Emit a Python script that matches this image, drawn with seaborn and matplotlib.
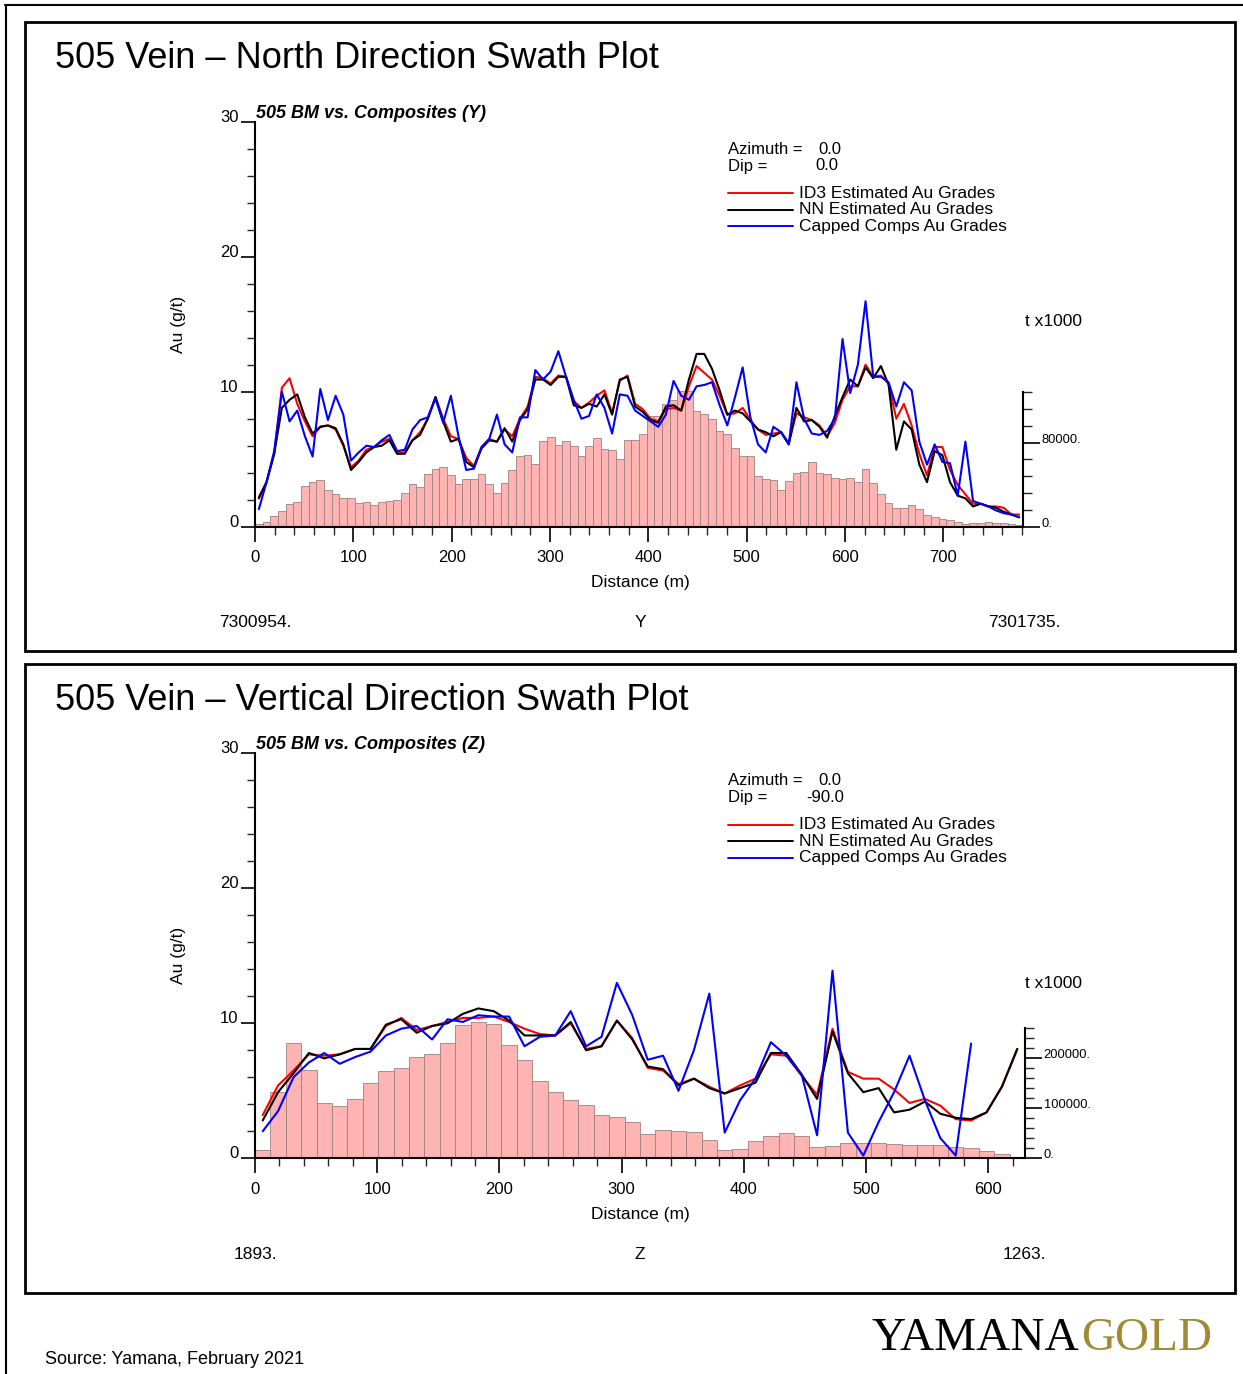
import numpy as np
import pandas as pd
import matplotlib
matplotlib.use("Agg")
import matplotlib.pyplot as plt
import seaborn as sns
from matplotlib.lines import Line2D
from matplotlib.patches import Rectangle
from matplotlib.ticker import FixedLocator, FixedFormatter, MultipleLocator

# ---------------- data ----------------
# North (Y) swath: 100 slices over 781 m
north_length_m = 781.0
north_tonnes_k = [2200, 4800, 10200, 14900, 21600, 23500, 38700, 42200, 44100, 34900,
                  30800, 27600, 27600, 22200, 23200, 20600, 23200, 24800, 25400, 32400,
                  40300, 38100, 50200, 54900, 56500, 48900, 40300, 45700, 45100, 50200,
                  40300, 32400, 41300, 53700, 67600, 68300, 59400, 81600, 85400, 77800,
                  81300, 76500, 67300, 77200, 84100, 73700, 72700, 64100, 82900, 82200,
                  88300, 105400, 105400, 116500, 120700, 129000, 129000, 110200, 107300, 102200,
                  91100, 88600, 74900, 67600, 67000, 48300, 45400, 44100, 35200, 43200,
                  51100, 52400, 61300, 51100, 49800, 46000, 45400, 46700, 42900, 54600,
                  41600, 30800, 22500, 17800, 17800, 20300, 17100, 11100, 9200, 7000,
                  6400, 4400, 2900, 3800, 3800, 4100, 3800, 3200, 2500, 1600]
north_id3 = [2.2, 3.3, 5.4, 10.3, 11.0, 9.1, 7.8, 6.7, 7.4, 7.5, 7.2, 6.0, 4.4, 4.9, 5.7, 5.9, 6.3,
             6.5, 5.5, 5.5, 6.4, 7.0, 8.0, 9.6, 8.0, 6.7,
             6.5, 5.1, 4.5, 5.9, 6.5, 6.3, 7.2, 6.7, 8.0, 8.9, 11.1, 11.0, 10.6, 11.2, 11.1, 9.3,
             8.8, 9.2, 9.7, 10.1, 8.4, 10.8, 11.2, 9.1, 8.7,
             8.0, 7.8, 8.7, 8.8, 8.6, 10.4, 11.9, 11.4, 10.9, 9.7, 8.3, 8.4, 8.8, 7.9, 7.2, 6.8,
             6.9, 7.0, 6.2, 8.4, 8.1, 7.9, 7.5, 6.7, 7.7,
             9.4, 10.4, 10.4, 12.0, 11.1, 11.2, 10.6, 8.0, 9.1, 7.5, 5.4, 3.8, 5.9, 5.9, 4.2, 3.1,
             2.4, 1.7, 1.7, 1.5, 1.5, 1.4, 0.9, 0.9]
north_nn = [2.1, 3.3, 5.4, 8.8, 9.4, 9.8, 8.1, 6.9, 7.4, 7.5, 7.3, 6.1, 4.2, 4.8, 5.5, 5.9, 6.0,
            6.4, 5.4, 5.4, 6.4, 6.8, 8.0, 9.6, 7.8, 6.3,
            6.5, 4.8, 4.4, 5.8, 6.4, 6.3, 7.3, 6.3, 7.9, 8.7, 10.9, 10.9, 10.5, 11.1, 11.1, 9.0,
            8.8, 9.1, 8.9, 9.8, 8.3, 10.9, 11.1, 8.9, 8.5,
            7.9, 7.7, 8.9, 9.0, 8.6, 10.9, 12.8, 12.8, 11.7, 10.1, 8.3, 8.6, 8.4, 7.8, 7.2, 7.0,
            6.7, 7.0, 6.1, 8.8, 7.8, 7.9, 7.4, 6.6, 8.2,
            9.6, 10.9, 10.4, 11.8, 11.0, 11.9, 10.5, 5.7, 7.8, 7.2, 4.6, 3.3, 5.6, 5.3, 3.3, 2.3,
            2.1, 1.5, 1.7, 1.5, 1.4, 1.1, 0.9, 0.7]
north_comps = [1.3, 3.3, 5.6, 10.0, 7.8, 8.6, 6.7, 5.2, 10.2, 7.9, 9.7, 8.3, 4.9, 5.5, 6.0, 5.9, 6.4,
               6.8, 5.6, 5.7, 7.2, 7.9, 8.1, 9.5, 7.7, 9.7,
               6.7, 4.2, 4.3, 5.9, 6.5, 8.3, 6.1, 5.5, 8.1, 8.1, 11.6, 10.9, 11.5, 13.0, 11.1, 9.4,
               8.0, 8.2, 9.8, 8.8, 6.9, 9.8, 9.7, 8.6, 8.2,
               7.8, 7.4, 8.3, 10.8, 9.7, 9.4, 10.4, 10.5, 10.7, 9.0, 7.5, 9.6, 11.8, 8.1, 6.1, 5.5,
               7.4, 7.0, 6.1, 10.7, 8.0, 6.9, 6.8, 7.1, 8.0,
               13.9, 9.9, 12.0, 16.7, 11.1, 11.1, 10.7, 8.9, 10.7, 10.1, 6.3, 4.6, 6.1, 4.8, 4.7, 2.3,
               6.3, 1.9, 1.7, 1.5, 1.2, 1.0, 0.9, 0.7]

# Vertical (Z) swath: 50 slices over 630 m
vert_length_m = 630.0
vert_tonnes_k = [16700, 132000, 230000, 176700, 111300, 104700, 118000, 150000, 174700, 181300,
                 202000, 208700, 230000, 266700, 272700, 268000, 226700, 196700, 155300, 133300,
                 116700, 106700, 86700, 83300, 72000,
                 48700, 56700, 54700, 53300, 36700, 16700, 18700, 34700, 44700, 50000,
                 44700, 23300, 24700, 31300, 31300, 30700, 28700, 26700, 26700, 26000,
                 23300, 20000, 15300, 8700, 2000]
vert_id3 = [3.2, 5.4, 6.5, 7.7, 7.6, 7.7, 8.1, 8.1, 9.8, 10.4, 9.5, 9.8, 10.1, 10.4, 10.4, 10.5,
            10.1, 9.6, 9.2, 9.1, 10.0, 8.1, 8.3, 10.2, 8.9,
            6.7, 6.5, 5.5, 5.9, 5.3, 4.8, 5.4, 5.9, 7.7, 7.6, 6.1, 4.7, 9.6, 6.4, 5.9, 5.9, 5.1,
            4.1, 4.4, 3.9, 2.9, 2.8, 3.4, 5.3, 8.1]
vert_nn = [2.8, 4.9, 6.3, 7.8, 7.4, 7.7, 8.1, 8.1, 9.9, 10.3, 9.3, 9.8, 10.0, 10.7, 11.1, 10.9,
           10.2, 9.1, 9.1, 9.1, 10.1, 8.0, 8.3, 10.2, 8.8,
           6.8, 6.6, 5.4, 5.9, 5.2, 4.8, 5.2, 5.6, 7.8, 7.8, 6.2, 4.4, 9.4, 6.3, 4.9, 5.2, 3.4,
           3.6, 4.2, 3.3, 3.0, 2.9, 3.4, 5.3, 8.1]
vert_comps = [2.0, 3.5, 6.0, 7.1, 7.8, 7.0, 7.5, 7.9, 9.1, 9.6, 9.8, 8.8, 10.3, 10.1, 10.6, 10.5,
              10.5, 8.3, 9.0, 9.1, 10.9, 8.3, 9.0, 13.0, 10.6,
              7.3, 7.6, 5.0, 8.0, 12.2, 1.9, 4.3, 5.9, 8.6, 7.6, 6.2, 1.7, 13.9, 1.9, 0.2, 2.7,
              4.9, 7.6, 4.3, 1.5, 0.2, 8.5, np.nan, np.nan, np.nan]

series_labels = ["ID3 Estimated Au Grades", "NN Estimated Au Grades", "Capped Comps Au Grades"]

# ---------------- styling ----------------
W, H = 1243, 1374
RED, BLACK, BLUE = "#ff0000", "#000000", "#0000ff"
BAR_FILL, BAR_EDGE = "#ffb4b4", "#a08080"
GOLD = "#a08a34"

sns.set_theme(style="white")
plt.rcParams["font.family"] = ["Liberation Sans", "DejaVu Sans"]
plt.rcParams["axes.edgecolor"] = "black"

fig = plt.figure(figsize=(W / 100, H / 100), dpi=100)
fig.patch.set_facecolor("white")


def fx(x):
    return x / W


def fy(y):
    return 1 - y / H


def ftext(x, y, s, **kw):
    kw.setdefault("ha", "left")
    kw.setdefault("va", "center")
    kw.setdefault("fontsize", 12.5)
    kw.setdefault("color", "black")
    return fig.text(fx(x), fy(y + 2), s, **kw)


def panel(top_px, bottom_px, right_px, length, tonnes, id3, nn, comps,
          xmajor, r_major, r_minor, r_top, r_ylim, tag, endpoints, title,
          az, dip, box_top, unit_y):
    ax = fig.add_axes([fx(255), fy(bottom_px), (right_px - 255) / W, (bottom_px - top_px) / H])
    ax2 = ax.twinx()
    n = len(tonnes)
    width = length / n
    centers = (np.arange(n) + 0.5) * width

    bars = pd.DataFrame({"d": centers, "t": np.asarray(tonnes, dtype=float)})
    sns.histplot(data=bars, x="d", weights="t", bins=n, binrange=(0, length), ax=ax2,
                 color=BAR_FILL, edgecolor=BAR_EDGE, linewidth=0.6, alpha=1.0)

    df = pd.DataFrame({
        "d": np.concatenate([centers] * 3),
        "g": np.concatenate([id3, nn, comps]),
        "s": np.repeat(series_labels, n),
    }).dropna()
    sns.lineplot(data=df, x="d", y="g", hue="s", hue_order=series_labels,
                 palette=[RED, BLACK, BLUE], estimator=None, sort=False,
                 legend=False, ax=ax, linewidth=1.5)

    ax.set_zorder(ax2.get_zorder() + 1)
    ax.patch.set_visible(False)
    ax.set_xlim(0, length)
    ax.set_ylim(0, 30)
    ax2.set_ylim(0, r_ylim)
    ax.set_xlabel("")
    ax.set_ylabel("")
    ax2.set_ylabel("")
    ax2.set_xlabel("")

    for sp in ["top", "right"]:
        ax.spines[sp].set_visible(False)
    for sp in ["left", "bottom"]:
        ax.spines[sp].set_linewidth(1.5)
        ax.spines[sp].set_color("black")
    for sp in ["top", "left", "bottom"]:
        ax2.spines[sp].set_visible(False)
    ax2.spines["right"].set_bounds(0, r_top)
    ax2.spines["right"].set_linewidth(1.5)
    ax2.spines["right"].set_color("black")

    # left axis
    ax.yaxis.set_major_locator(FixedLocator([0, 10, 20, 30]))
    ax.yaxis.set_minor_locator(MultipleLocator(2))
    ax.tick_params(axis="y", which="major", direction="out", length=10, width=1.2,
                   pad=2, labelsize=12, left=True, colors="black")
    ax.tick_params(axis="y", which="minor", direction="out", length=6, width=1.0, left=True)
    for lab in ax.get_yticklabels():
        lab.set_va("baseline")

    # x axis
    ax.xaxis.set_major_locator(FixedLocator(xmajor))
    ax.xaxis.set_minor_locator(FixedLocator(np.arange(0, length, 20)))
    ax.tick_params(axis="x", which="major", direction="out", length=11, width=1.2,
                   pad=6, labelsize=12, bottom=True, colors="black")
    ax.tick_params(axis="x", which="minor", direction="out", length=6, width=1.0, bottom=True)

    # right axis (tonnes)
    ax2.yaxis.set_major_locator(FixedLocator(r_major))
    ax2.yaxis.set_major_formatter(FixedFormatter([f"{int(v)}." for v in r_major]))
    ax2.yaxis.set_minor_locator(FixedLocator(r_minor))
    ax2.tick_params(axis="y", which="major", direction="out", length=12, width=1.2,
                    pad=1.5, labelsize=9.3, right=True, colors="black")
    ax2.tick_params(axis="y", which="minor", direction="out", length=6.5, width=1.0, right=True)
    for lab in ax2.get_yticklabels():
        lab.set_va("baseline")

    # texts
    off = top_px - 121.7
    ftext(55, box_top + 34, title, fontsize=26)
    ftext(256, 111 + off, f"505 BM vs. Composites ({tag})", fontsize=13,
          fontweight="bold", fontstyle="italic")
    ftext(728, 147 + off, "Azimuth =", fontsize=12)
    ftext(841, 147 + off, az, ha="right", fontsize=12)
    ftext(728, 164 + off, "Dip =", fontsize=12)
    ftext(844 if dip.startswith("-") else 838, 164 + off, dip, ha="right", fontsize=12)
    for i, (lab, col) in enumerate(zip(series_labels, [RED, BLACK, BLUE])):
        yy = 191 + off + i * 16.6
        fig.add_artist(Line2D([fx(728), fx(793)], [fy(yy + 2), fy(yy + 2)],
                              color=col, lw=1.4, transform=fig.transFigure))
        ftext(799, yy, lab, fontsize=12.5)
    ftext(1025, unit_y, "t x1000", fontsize=12.5)
    ftext(178, 0.5 * (top_px + bottom_px) - 2, "Au (g/t)", rotation=90, ha="center", fontsize=12.5)
    ftext(640, bottom_px + 54, "Distance (m)", ha="center", fontsize=12.5)
    ftext(255, bottom_px + 94, endpoints[0], ha="center", fontsize=12.5)
    ftext(640, bottom_px + 94, tag, ha="center", fontsize=12.5)
    ftext(1024, bottom_px + 94, endpoints[1], ha="center", fontsize=12.5)

    fig.add_artist(Rectangle((fx(25), fy(box_top + 629)), (1235 - 25) / W, 629 / H,
                             fill=False, ec="black", lw=2, transform=fig.transFigure))
    return ax, ax2


panel(121.7, 526.7, 1023, north_length_m, north_tonnes_k, north_id3, north_nn, north_comps,
      xmajor=np.arange(0, 701, 100), r_major=[0, 80000], r_minor=np.arange(0, 128001, 16000),
      r_top=128000, r_ylim=80000 * 405 / 84, tag="Y", endpoints=("7300954.", "7301735."),
      title="505 Vein \u2013 North Direction Swath Plot", az="0.0", dip="0.0", box_top=22,
      unit_y=320)

panel(753.3, 1158.3, 1025, vert_length_m, vert_tonnes_k, vert_id3, vert_nn, vert_comps,
      xmajor=np.arange(0, 601, 100), r_major=[0, 100000, 200000],
      r_minor=np.arange(0, 260001, 20000), r_top=260000, r_ylim=100000 * 405 / 50,
      tag="Z", endpoints=("1893.", "1263."),
      title="505 Vein \u2013 Vertical Direction Swath Plot", az="0.0", dip="-90.0", box_top=664,
      unit_y=982)

# outer frame lines
fig.add_artist(Line2D([fx(5), fx(1243)], [fy(5), fy(5)], color="black", lw=1.5,
                      transform=fig.transFigure))
fig.add_artist(Line2D([fx(6), fx(6)], [fy(5), fy(1374)], color="black", lw=1.5,
                      transform=fig.transFigure))

ftext(45, 1358, "Source: Yamana, February 2021", fontsize=13)

t1 = ftext(872, 1337, "YAMANA", fontsize=34, family=["Liberation Serif", "DejaVu Serif"])
fig.canvas.draw()
bb = t1.get_window_extent(renderer=fig.canvas.get_renderer())
fig.text(bb.x1 / fig.bbox.width + 0.001, fy(1339), "GOLD", fontsize=34, color=GOLD,
         family=["Liberation Serif", "DejaVu Serif"], ha="left", va="center")

fig.savefig("out.png", dpi=100, facecolor="white")
